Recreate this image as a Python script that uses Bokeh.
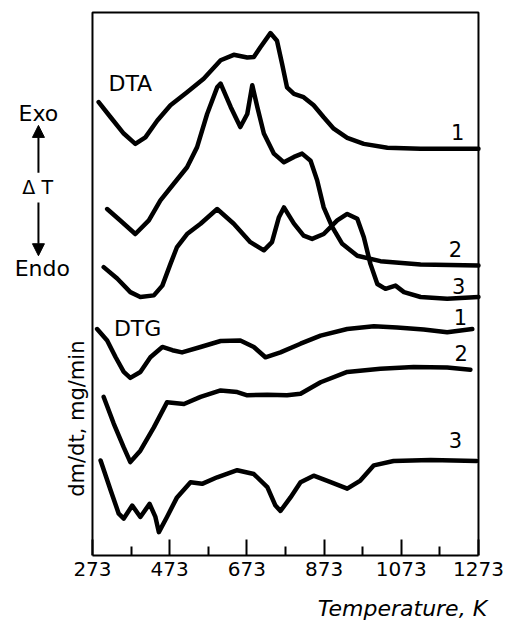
import math
from bokeh.plotting import figure
from bokeh.models import Range1d, FixedTicker, Arrow, NormalHead, LinearAxis
from bokeh.core.properties import value
from bokeh.embed import file_html
from bokeh.resources import INLINE

# ---- data: temperature (K) and signal (arbitrary units) ----
dta1_T = [289, 320, 354, 384, 410, 441, 475, 518, 561, 605, 639, 674, 691, 708, 734, 751, 764,
          777, 795, 820, 846, 872, 898, 933, 976, 1037, 1123, 1273]
dta1_y = [83.5, 80.7, 77.7, 75.8, 77.0, 80.1, 82.9, 85.3, 87.8, 91.2, 92.2, 91.7, 91.8, 93.6,
          96.2, 94.8, 90.6, 86.2, 85.0, 84.4, 82.9, 80.7, 78.6, 76.9, 75.8, 75.1, 74.9, 74.9]

dta2_T = [311, 345, 384, 419, 449, 484, 518, 544, 570, 596, 605, 631, 656, 674, 687, 700, 717,
          743, 769, 795, 816, 838, 855, 872, 894, 920, 959, 1019, 1123, 1273]
dta2_y = [63.8, 61.7, 59.2, 61.7, 65.4, 68.5, 71.5, 75.2, 81.3, 86.2, 86.9, 82.6, 78.9, 81.3,
          86.6, 82.6, 77.7, 74.0, 72.4, 73.4, 74.0, 72.7, 69.1, 64.1, 60.5, 57.4, 55.2, 54.2,
          53.6, 53.4]

dta3_T = [302, 337, 371, 397, 432, 454, 475, 492, 518, 553, 596, 639, 682, 717, 738, 756, 769,
          795, 820, 842, 872, 907, 933, 959, 976, 993, 1011, 1032, 1058, 1080, 1123, 1192, 1273]
dta3_y = [53.1, 51.0, 48.5, 47.6, 47.9, 49.7, 53.7, 56.8, 59.2, 61.1, 63.8, 61.1, 57.7, 56.2,
          57.7, 62.3, 64.1, 61.1, 58.9, 58.3, 59.2, 61.7, 62.9, 62.0, 58.6, 53.7, 50.0, 49.1,
          49.7, 48.5, 47.6, 47.3, 47.6]

dtg1_T = [285, 311, 333, 354, 371, 397, 423, 454, 480, 505, 553, 605, 656, 691, 721, 760, 812,
          864, 933, 1002, 1062, 1131, 1192, 1257]
dtg1_y = [41.7, 39.6, 36.5, 33.8, 32.7, 33.8, 36.5, 38.4, 37.8, 37.4, 38.4, 39.5, 39.6, 38.4,
          36.5, 37.4, 39.0, 40.5, 41.7, 42.2, 42.0, 41.6, 41.1, 41.7]

dtg2_T = [302, 328, 354, 371, 397, 432, 466, 510, 553, 605, 648, 674, 726, 777, 812, 864, 933,
          1019, 1105, 1192, 1252]
dtg2_y = [29.2, 24.3, 19.9, 17.2, 19.3, 23.6, 28.2, 27.9, 29.2, 30.4, 30.1, 29.5, 29.6, 29.5,
          29.8, 31.9, 33.8, 34.4, 34.7, 34.6, 34.2]

dtg3_T = [294, 320, 341, 354, 376, 397, 421, 436, 445, 466, 492, 527, 557, 596, 648, 691, 726,
          747, 760, 786, 812, 846, 890, 933, 967, 1002, 1053, 1149, 1268]
dtg3_y = [17.5, 12.0, 7.7, 6.8, 9.2, 7.1, 9.5, 7.1, 4.3, 7.1, 10.7, 13.5, 13.2, 14.4, 15.7,
          15.0, 12.6, 9.2, 8.2, 10.7, 13.5, 14.7, 13.5, 12.3, 13.8, 16.6, 17.4, 17.6, 17.4]

major_ticks = [273, 473, 673, 873, 1073, 1273]
minor_ticks = [373, 573, 773, 973, 1173]

curve_labels = ["1", "2", "3", "1", "2", "3"]
curve_label_T = [1219, 1213, 1222, 1226, 1228, 1213]
curve_label_y = [77.9, 56.5, 49.6, 44.0, 37.2, 21.2]

x_title = "Temperature, K"
x_title_T = 1076

FONT = "DejaVu Sans"
T0, T1 = major_ticks[0], major_ticks[-1]
Y_TOP = 100.0

p = figure(width=505, height=628, output_backend="svg", toolbar_location=None,
           x_range=Range1d(34.7, 1343.0), y_range=Range1d(0, 102.2),
           y_axis_location=None,
           min_border_left=0, min_border_right=0, min_border_top=0, min_border_bottom=73)
p.grid.visible = False
p.outline_line_color = None
p.background_fill_color = "white"
p.border_fill_color = "white"

ax = p.xaxis[0]
ax.bounds = (T0, T1)
ax.ticker = FixedTicker(ticks=major_ticks, minor_ticks=minor_ticks)
ax.major_tick_in = 16
ax.major_tick_out = 0
ax.minor_tick_in = 9
ax.minor_tick_out = 0
ax.major_tick_line_width = 2
ax.minor_tick_line_width = 2
ax.major_tick_line_color = "black"
ax.minor_tick_line_color = "black"
ax.axis_line_width = 2
ax.axis_line_color = "black"
ax.major_label_text_font = FONT
ax.major_label_text_font_size = "20px"
ax.major_label_text_color = "black"
ax.major_label_standoff = 6

# second, invisible axis carrying the axis title at its place on the right
ax2 = LinearAxis(ticker=FixedTicker(ticks=[x_title_T]),
                 major_label_overrides={x_title_T: x_title},
                 axis_line_color=None, major_tick_line_color=None, minor_tick_line_color=None,
                 major_tick_in=0, major_tick_out=0, minor_tick_in=0, minor_tick_out=0,
                 major_label_standoff=17, major_label_text_font=FONT,
                 major_label_text_font_size="22px", major_label_text_font_style="italic",
                 major_label_text_color="black")
p.add_layout(ax2, "below")

# plot box (left, top, right edges; bottom is the axis line)
p.line([T0, T0, T1, T1], [0, Y_TOP, Y_TOP, 0], line_width=2, line_color="black")

for xs, ys in [(dta1_T, dta1_y), (dta2_T, dta2_y), (dta3_T, dta3_y),
               (dtg1_T, dtg1_y), (dtg2_T, dtg2_y), (dtg3_T, dtg3_y)]:
    p.line(xs, ys, line_width=4.5, line_color="black", line_join="round", line_cap="round")

p.text(curve_label_T, curve_label_y, text=curve_labels, text_font=value(FONT),
       text_font_size="21px", text_align="center", text_baseline="middle", text_color="black")

def txt(x, y, s, size="20px", angle=0):
    p.text([x], [y], text=[s], text_font=value(FONT), text_font_size=size, angle=angle,
           text_align="center", text_baseline="middle", text_color="black")

txt(371, 86.9, "DTA", "22px")
txt(390, 41.8, "DTG", "22px")
txt(133, 81.4, "Exo", "22px")
txt(131, 67.8, "Δ T", "19px")
txt(143, 52.9, "Endo", "22px")
txt(234, 25.2, "dm/dt, mg/min", "21px", angle=math.pi / 2)

p.add_layout(Arrow(end=NormalHead(size=12, fill_color="black", line_color="black"),
                   x_start=133, y_start=70.5, x_end=133, y_end=79.2,
                   line_width=2, line_color="black"))
p.add_layout(Arrow(end=NormalHead(size=12, fill_color="black", line_color="black"),
                   x_start=133, y_start=65.0, x_end=133, y_end=55.2,
                   line_width=2, line_color="black"))

open("out.html", "w").write(file_html(p, INLINE))
